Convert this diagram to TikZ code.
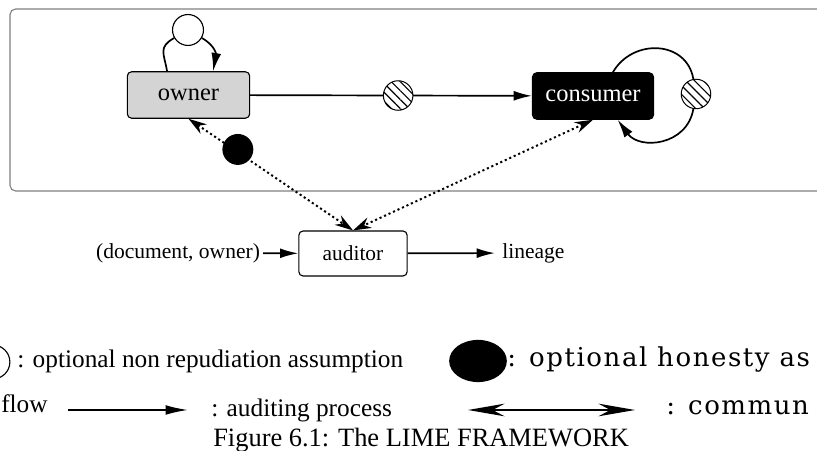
\documentclass[tikz,border=0pt]{standalone}
\usepackage{fontspec}
\setmainfont{Liberation Serif}
\newfontfamily\widefont{DejaVu Serif}[LetterSpace=6]
\usetikzlibrary{arrows.meta,patterns.meta,shapes.geometric}
\newcommand{\fsz}[1]{\fontsize{#1}{#1}\selectfont}

\begin{document}
\begin{tikzpicture}[
		x=0.025cm, y=0.025cm,
		agent/.style={draw=black, line width=0.8pt, rounded corners=3pt,
			minimum width=87pt, minimum height=33pt, inner sep=0pt, font=\fsz{17.4}},
		flowline/.style={line width=1.2pt, -{Latex[length=13pt,width=7pt]}},
		audline/.style={line width=1.4pt, dash pattern=on 1.5pt off 2pt,
			{Stealth[length=13pt,width=8pt]}-{Stealth[length=13pt,width=8pt]}},
		hatch/.style={circle, draw=black, line width=0.7pt, minimum size=21pt,
			inner sep=0pt, preaction={fill=white},
			pattern={Lines[angle=-45,distance=4.5pt,line width=0.8pt]}},
		honest/.style={fill=black, inner sep=0pt},
		legend/.style={font=\fsz{18}, inner sep=0pt},
		wide/.style={font=\widefont\fsz{18.5}, inner sep=0pt},
	]
	\clip (0,0) rectangle (817,451);
	% frame round the agents
	\draw[draw=gray, line width=0.8pt, rounded corners=4pt] (10,260) rectangle (850,442);

	\node[agent, fill=black!17] (owner) at (188.5,356) {owner};
	\node[agent, fill=black, text=white, minimum width=86pt] (consumer) at (593,355) {consumer};
	\node[agent, fill=white, minimum width=77pt, minimum height=32pt,
		font=\fsz{15.2}] (auditor) at (353,197.5) {auditor};

	% loops
	\node[circle, draw=black, line width=0.8pt, minimum size=22pt, inner sep=0pt] (ocirc) at (188,421) {};
	\draw[flowline] (owner.132) to[out=100, in=-150, looseness=1.4] (ocirc)
		to[out=-30, in=80, looseness=1.2] (owner.44);
	\node[hatch] (s2) at (696,357) {};
	\draw[flowline] (consumer.50) to[out=60, in=100, looseness=1.25] (s2)
		to[out=-100, in=-54, looseness=1.25] (consumer.-44);

	\draw[flowline] (owner) -- node[hatch, pos=0.525] (s1) {} (consumer);

	% auditing
	\draw[audline] (owner.south) -- node[honest, circle, minimum size=22pt, pos=0.3, yshift=2pt] (dot) {} (auditor.north);
	\draw[audline] (consumer.south) -- (auditor.north);
	\node[font=\fsz{15.3}, anchor=east, inner xsep=2pt] (docin) at (263,198) {(document, owner)};
	\node[font=\fsz{15.3}, anchor=west, inner xsep=5pt] (lineage) at (495,198) {lineage};
	\draw[flowline] (docin) -- (auditor);
	\draw[flowline] (auditor) -- (lineage);

	% legend
	\node[circle, draw=black, line width=0.8pt, minimum size=24pt, inner sep=0pt] (nrcirc) at (-7,89) {};
	\node[legend, anchor=base west] (nrtext) at (17,83) {: optional non repudiation assumption};
	\node[honest, ellipse, minimum width=41pt, minimum height=30pt] (hdot) at (478,90) {};
	\node[wide, anchor=base west] (htext) at (507,84) {: optional honesty as};
	\node[legend, anchor=base west] (flowtxt) at (1,38) {flow};
	\coordinate (fa) at (68,41);
	\coordinate (fb) at (188,41);
	\draw[line width=1.2pt, -{Latex[length=16pt,width=7pt]}] (fa) -- (fb);
	\node[legend, anchor=base west] (audtxt) at (211,34) {: auditing process};
	\coordinate (ca) at (468,41);
	\coordinate (cb) at (635,41);
	\draw[line width=1.2pt, {Stealth[length=26pt,width=9pt]}-{Stealth[length=26pt,width=9pt]}] (ca) -- (cb);
	\node[wide, anchor=base west] (comtxt) at (666,36) {: commun};
	\node[legend, font=\fsz{18.8}, anchor=base west] (caption) at (213,4) {Figure 6.1: The LIME FRAMEWORK};
\end{tikzpicture}
\end{document}
